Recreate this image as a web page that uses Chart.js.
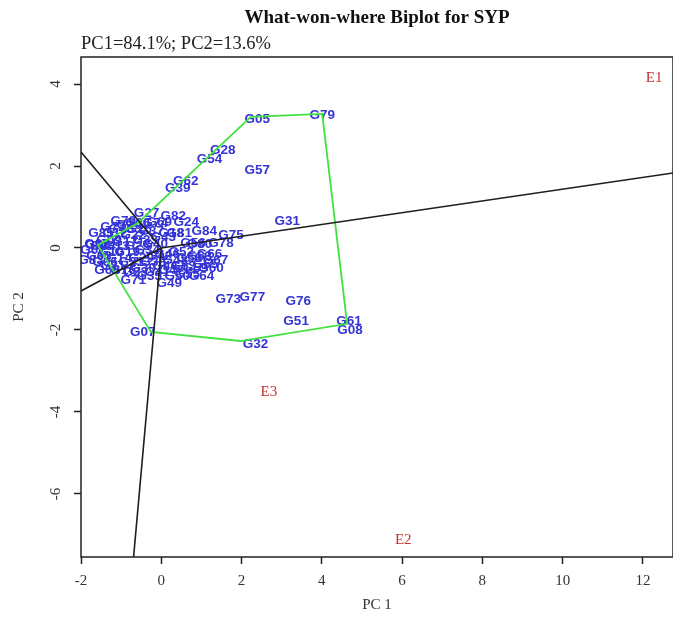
<!DOCTYPE html>
<html>
<head>
<meta charset="utf-8">
<script src="https://cdn.jsdelivr.net/npm/chart.js@4.4.1/dist/chart.umd.min.js"></script>
<style>
  html, body { margin: 0; padding: 0; background: #fff; }
  #wrap { width: 673px; height: 617px; }
</style>
</head>
<body>
<div id="wrap"><canvas id="biplot"></canvas></div>
<script>
// genotype scores (PC1, PC2)
const genoNames = ['G05','G79','G28','G54','G57','G62','G39','G31','G73','G77','G76','G51','G61','G08','G32','G07',
  'G27','G82','G24','G18','G84','G75','G78','G56','G60','G49','G69',
  'G01','G02','G03','G04','G06','G09','G10','G11','G12','G13','G14','G15','G16','G17','G19','G20','G21','G22','G23',
  'G25','G26','G29','G30','G33','G34','G35','G36','G37','G38','G40','G41','G42','G43','G44','G45','G46','G47','G48',
  'G50','G52','G53','G55','G58','G59','G63','G64','G65','G66','G67','G68','G70','G71','G72','G74','G80','G81','G83','G85'];
const genoPC1 = [2.39, 4.01, 1.53, 1.20, 2.39, 0.61, 0.41, 3.14, 1.67, 2.27, 3.41, 3.36, 4.68, 4.70, 2.35, -0.46,
  -0.37, 0.30, 0.62, 0.25, 1.07, 1.74, 1.49, 0.79, 1.24, 0.20, -0.05,
  -1.70, -1.60, -1.55, -1.45, -1.40, -1.30, -1.25, -1.20, -1.15, -1.10, -1.05, -1.00, -0.95, -0.90, -0.85, -0.80, -0.75, -0.70, -0.65,
  -0.60, -0.55, -0.50, -0.45, -0.40, -0.35, -0.30, -0.58, -0.25, -0.20, -0.15, -0.10, -0.05, 0.05, 0.10, -1.58, 0.15, 0.25, 0.35,
  0.40, 0.50, 0.55, 0.65, 0.70, 0.85, 0.95, 1.00, 1.10, 1.20, 1.35, -1.35, -0.95, -0.70, -1.20, -0.15, 0.95, 0.45, -1.75, -1.50];
const genoPC2 = [3.15, 3.24, 2.39, 2.17, 1.90, 1.63, 1.46, 0.66, -1.24, -1.20, -1.29, -1.78, -1.80, -2.00, -2.34, -2.05,
  0.85, 0.78, 0.63, 0.37, 0.41, 0.32, 0.12, 0.12, -0.49, -0.85, 0.63,
  -0.05, 0.10, -0.20, 0.05, -0.35, 0.20, -0.10, -0.45, 0.35, 0.05, -0.25, 0.45, -0.55, 0.15, -0.10, 0.55, -0.35, 0.30, -0.60,
  0.05, 0.45, -0.25, -0.50, 0.20, -0.05, -0.70, 0.61, 0.40, -0.35, 0.10, -0.60, -0.20, 0.25, -0.45, 0.07, -0.15, -0.55, -0.30,
  -0.70, -0.10, -0.45, -0.65, -0.25, -0.50, -0.20, -0.70, -0.40, -0.15, -0.30, -0.55, 0.65, -0.80, 0.50, 0.60, 0.10, 0.35, -0.30, 0.35];

// environment scores
const envNames = ['E1', 'E2', 'E3'];
const envPC1 = [12.28, 6.03, 2.68];
const envPC2 = [4.15, -7.12, -3.51];

// what-won-where polygon (vertex genotypes)
const hullPC1 = [2.23, 4.01, 4.63, 1.97, -0.26, -1.58, -0.58, 2.23];
const hullPC2 = [3.20, 3.27, -1.85, -2.27, -2.05, 0.07, 0.61, 3.20];

// sector boundary rays from the origin, ending at the plot frame
const rayPC1 = [-2.0, -2.0, 12.75, -0.69];
const rayPC2 = [2.34, -1.05, 1.83, -7.54];

const xTicks = [-2, 0, 2, 4, 6, 8, 10, 12];
const yTicks = [-6, -4, -2, 0, 2, 4];

const serif = '"Liberation Serif", "DejaVu Serif", serif';

const datasets = [];

datasets.push({
  label: 'genotypes',
  data: genoPC1.map((x, i) => ({ x: x, y: genoPC2[i] })),
  pointRadius: 0,
  pointLabels: genoNames,
  labelFont: 'bold 13.5px "Liberation Sans", Arial, sans-serif',
  labelColor: '#3434d6'
});

datasets.push({
  label: 'environments',
  data: envPC1.map((x, i) => ({ x: x, y: envPC2[i] })),
  pointRadius: 0,
  pointLabels: envNames,
  labelFont: '15px ' + serif,
  labelColor: '#c8322e'
});

rayPC1.forEach((x, i) => {
  datasets.push({
    label: 'ray' + i,
    data: [{ x: 0, y: 0 }, { x: x, y: rayPC2[i] }],
    showLine: true,
    borderColor: '#1e1e1e',
    borderWidth: 1.6,
    pointRadius: 0
  });
});

datasets.push({
  label: 'polygon',
  data: hullPC1.map((x, i) => ({ x: x, y: hullPC2[i] })),
  showLine: true,
  borderColor: '#3fe23f',
  borderWidth: 1.8,
  pointRadius: 0
});

// write the genotype / environment names at their points
const textLabels = {
  id: 'textLabels',
  beforeDatasetsDraw(chart) {
    const ctx = chart.ctx;
    const area = chart.chartArea;
    chart.data.datasets.forEach((ds, i) => {
      if (!ds.pointLabels) return;
      const meta = chart.getDatasetMeta(i);
      ctx.save();
      ctx.beginPath();
      ctx.rect(area.left, area.top, area.right - area.left, area.bottom - area.top);
      ctx.clip();
      ctx.font = ds.labelFont;
      ctx.fillStyle = ds.labelColor;
      ctx.textAlign = 'center';
      ctx.textBaseline = 'middle';
      meta.data.forEach((pt, j) => ctx.fillText(ds.pointLabels[j], pt.x, pt.y));
      ctx.restore();
    });
  }
};

// R-style box round the plot region
const frame = {
  id: 'frame',
  afterDraw(chart) {
    const { ctx, chartArea: a } = chart;
    ctx.save();
    ctx.strokeStyle = '#222';
    ctx.lineWidth = 1.5;
    ctx.strokeRect(a.left, a.top, a.right - a.left, a.bottom - a.top);
    ctx.restore();
  }
};

const ctx = document.getElementById('biplot').getContext('2d');
new Chart(ctx, {
  type: 'scatter',
  data: { datasets: datasets },
  plugins: [textLabels, frame],
  options: {
    responsive: true,
    maintainAspectRatio: false,
    animation: false,
    layout: { padding: 0 },
    plugins: {
      legend: { display: false },
      tooltip: { enabled: false },
      title: {
        display: true,
        text: 'What-won-where Biplot for SYP',
        fullSize: false,
        color: '#111',
        font: { family: serif, size: 19, weight: 'bold', lineHeight: 1.2 },
        padding: { top: 7, bottom: 3 }
      },
      subtitle: {
        display: true,
        text: 'PC1=84.1%; PC2=13.6%',
        align: 'start',
        fullSize: false,
        color: '#222',
        font: { family: serif, size: 18.5, lineHeight: 1.2 },
        padding: { top: 0, bottom: 2 }
      }
    },
    scales: {
      x: {
        type: 'linear',
        min: -2,
        max: 12.75,
        afterFit(scale) { scale.height = 60; },
        afterBuildTicks(scale) { scale.ticks = xTicks.map(v => ({ value: v })); },
        border: { display: false },
        grid: { display: true, drawOnChartArea: false, drawTicks: true, tickLength: 7, tickColor: '#222', tickWidth: 1.5 },
        ticks: { color: '#333', font: { family: serif, size: 15 }, padding: 8, maxRotation: 0 },
        title: { display: true, text: 'PC 1', color: '#333', font: { family: serif, size: 15 }, padding: { top: 0, bottom: 3 } }
      },
      y: {
        type: 'linear',
        min: -7.54,
        max: 4.66,
        afterFit(scale) { scale.width = 81; },
        afterBuildTicks(scale) { scale.ticks = yTicks.map(v => ({ value: v })); },
        border: { display: false },
        grid: { display: true, drawOnChartArea: false, drawTicks: true, tickLength: 7, tickColor: '#222', tickWidth: 1.5 },
        ticks: { color: '#333', font: { family: serif, size: 15 }, padding: 12, minRotation: 90, maxRotation: 90, crossAlign: 'center' },
        title: { display: true, text: 'PC 2', color: '#333', font: { family: serif, size: 15 }, padding: { top: 10, bottom: 0 } }
      }
    }
  }
});
</script>
</body>
</html>
